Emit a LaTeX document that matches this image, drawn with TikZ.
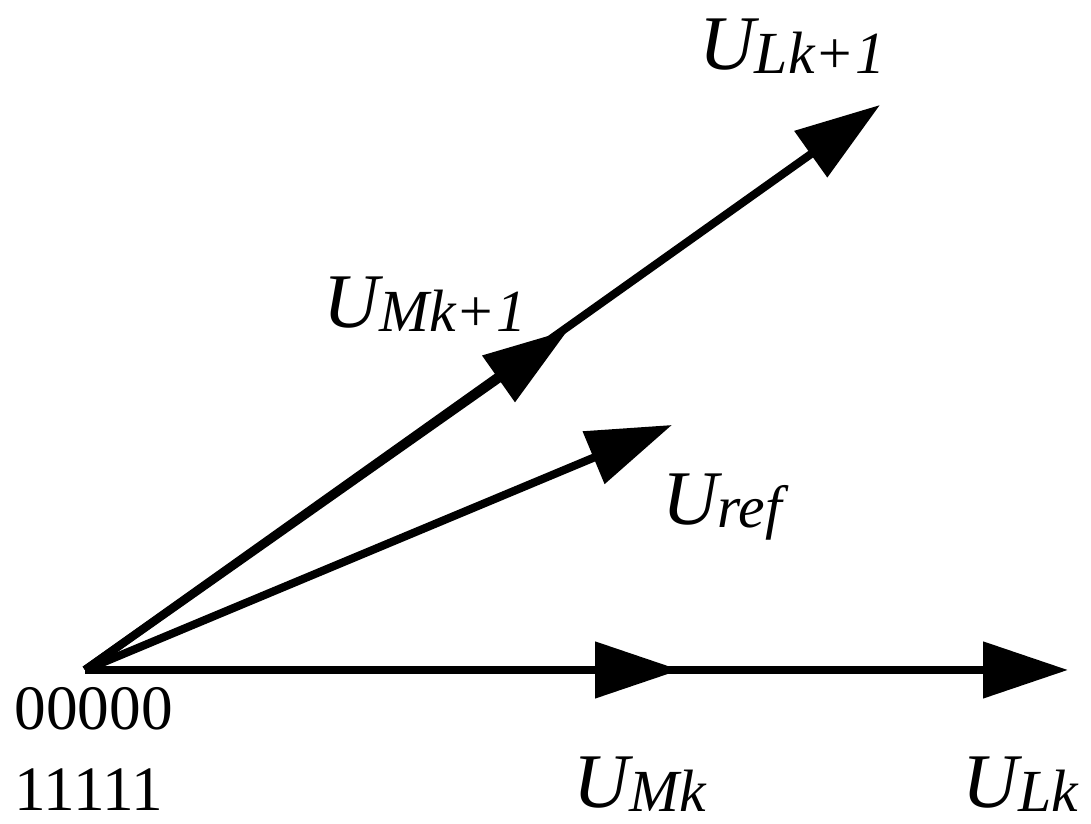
\documentclass[tikz,border=0pt]{standalone}
\usepackage{fontspec}
\setmainfont{Liberation Serif}
\usetikzlibrary{arrows.meta}
\newcommand{\vlab}[2]{{\fontsize{22}{22}\selectfont\itshape #1}\raisebox{-1pt}{\fontsize{17}{17}\selectfont\itshape #2}}
\begin{document}
\begin{tikzpicture}[
    vec/.style={line width=2.3pt,-{Triangle[length=0.85cm,width=0.55cm]}},
    lab/.style={inner sep=0pt}]
  \useasboundingbox (0,0) rectangle (10.91,8.24);
  % vectors
  \coordinate (O) at (0.85,1.54);
  \coordinate (Mk) at (6.80,1.54);
  \coordinate (Lk) at (10.68,1.54);
  \coordinate (Mk1) at (5.68,4.94);
  \coordinate (Lk1) at (8.80,7.19);
  \coordinate (Ref) at (6.72,3.99);
  \draw[vec] (O) -- (Lk);
  \draw[vec] (O) -- (Mk);
  \draw[vec] (O) -- (Lk1);
  \draw[vec] (O) -- (Mk1);
  \draw[vec] (O) -- (Ref);
  % labels
  \node[lab] (tLk1) at (7.92,7.78) {\vlab{U}{Lk+1}};
  \node[lab] (tMk1) at (4.25,5.20) {\vlab{U}{Mk+1}};
  \node[lab] (tRef) at (7.22,3.17) {\vlab{U}{ref}};
  \node[lab] (tMk) at (6.40,0.40) {\vlab{U}{Mk}};
  \node[lab] (tLk) at (10.20,0.40) {\vlab{U}{Lk}};
  \node[lab,anchor=west,align=left,font=\fontsize{18}{23}\selectfont] (tO) at (0.14,0.75) {00000\\11111};
\end{tikzpicture}
\end{document}
